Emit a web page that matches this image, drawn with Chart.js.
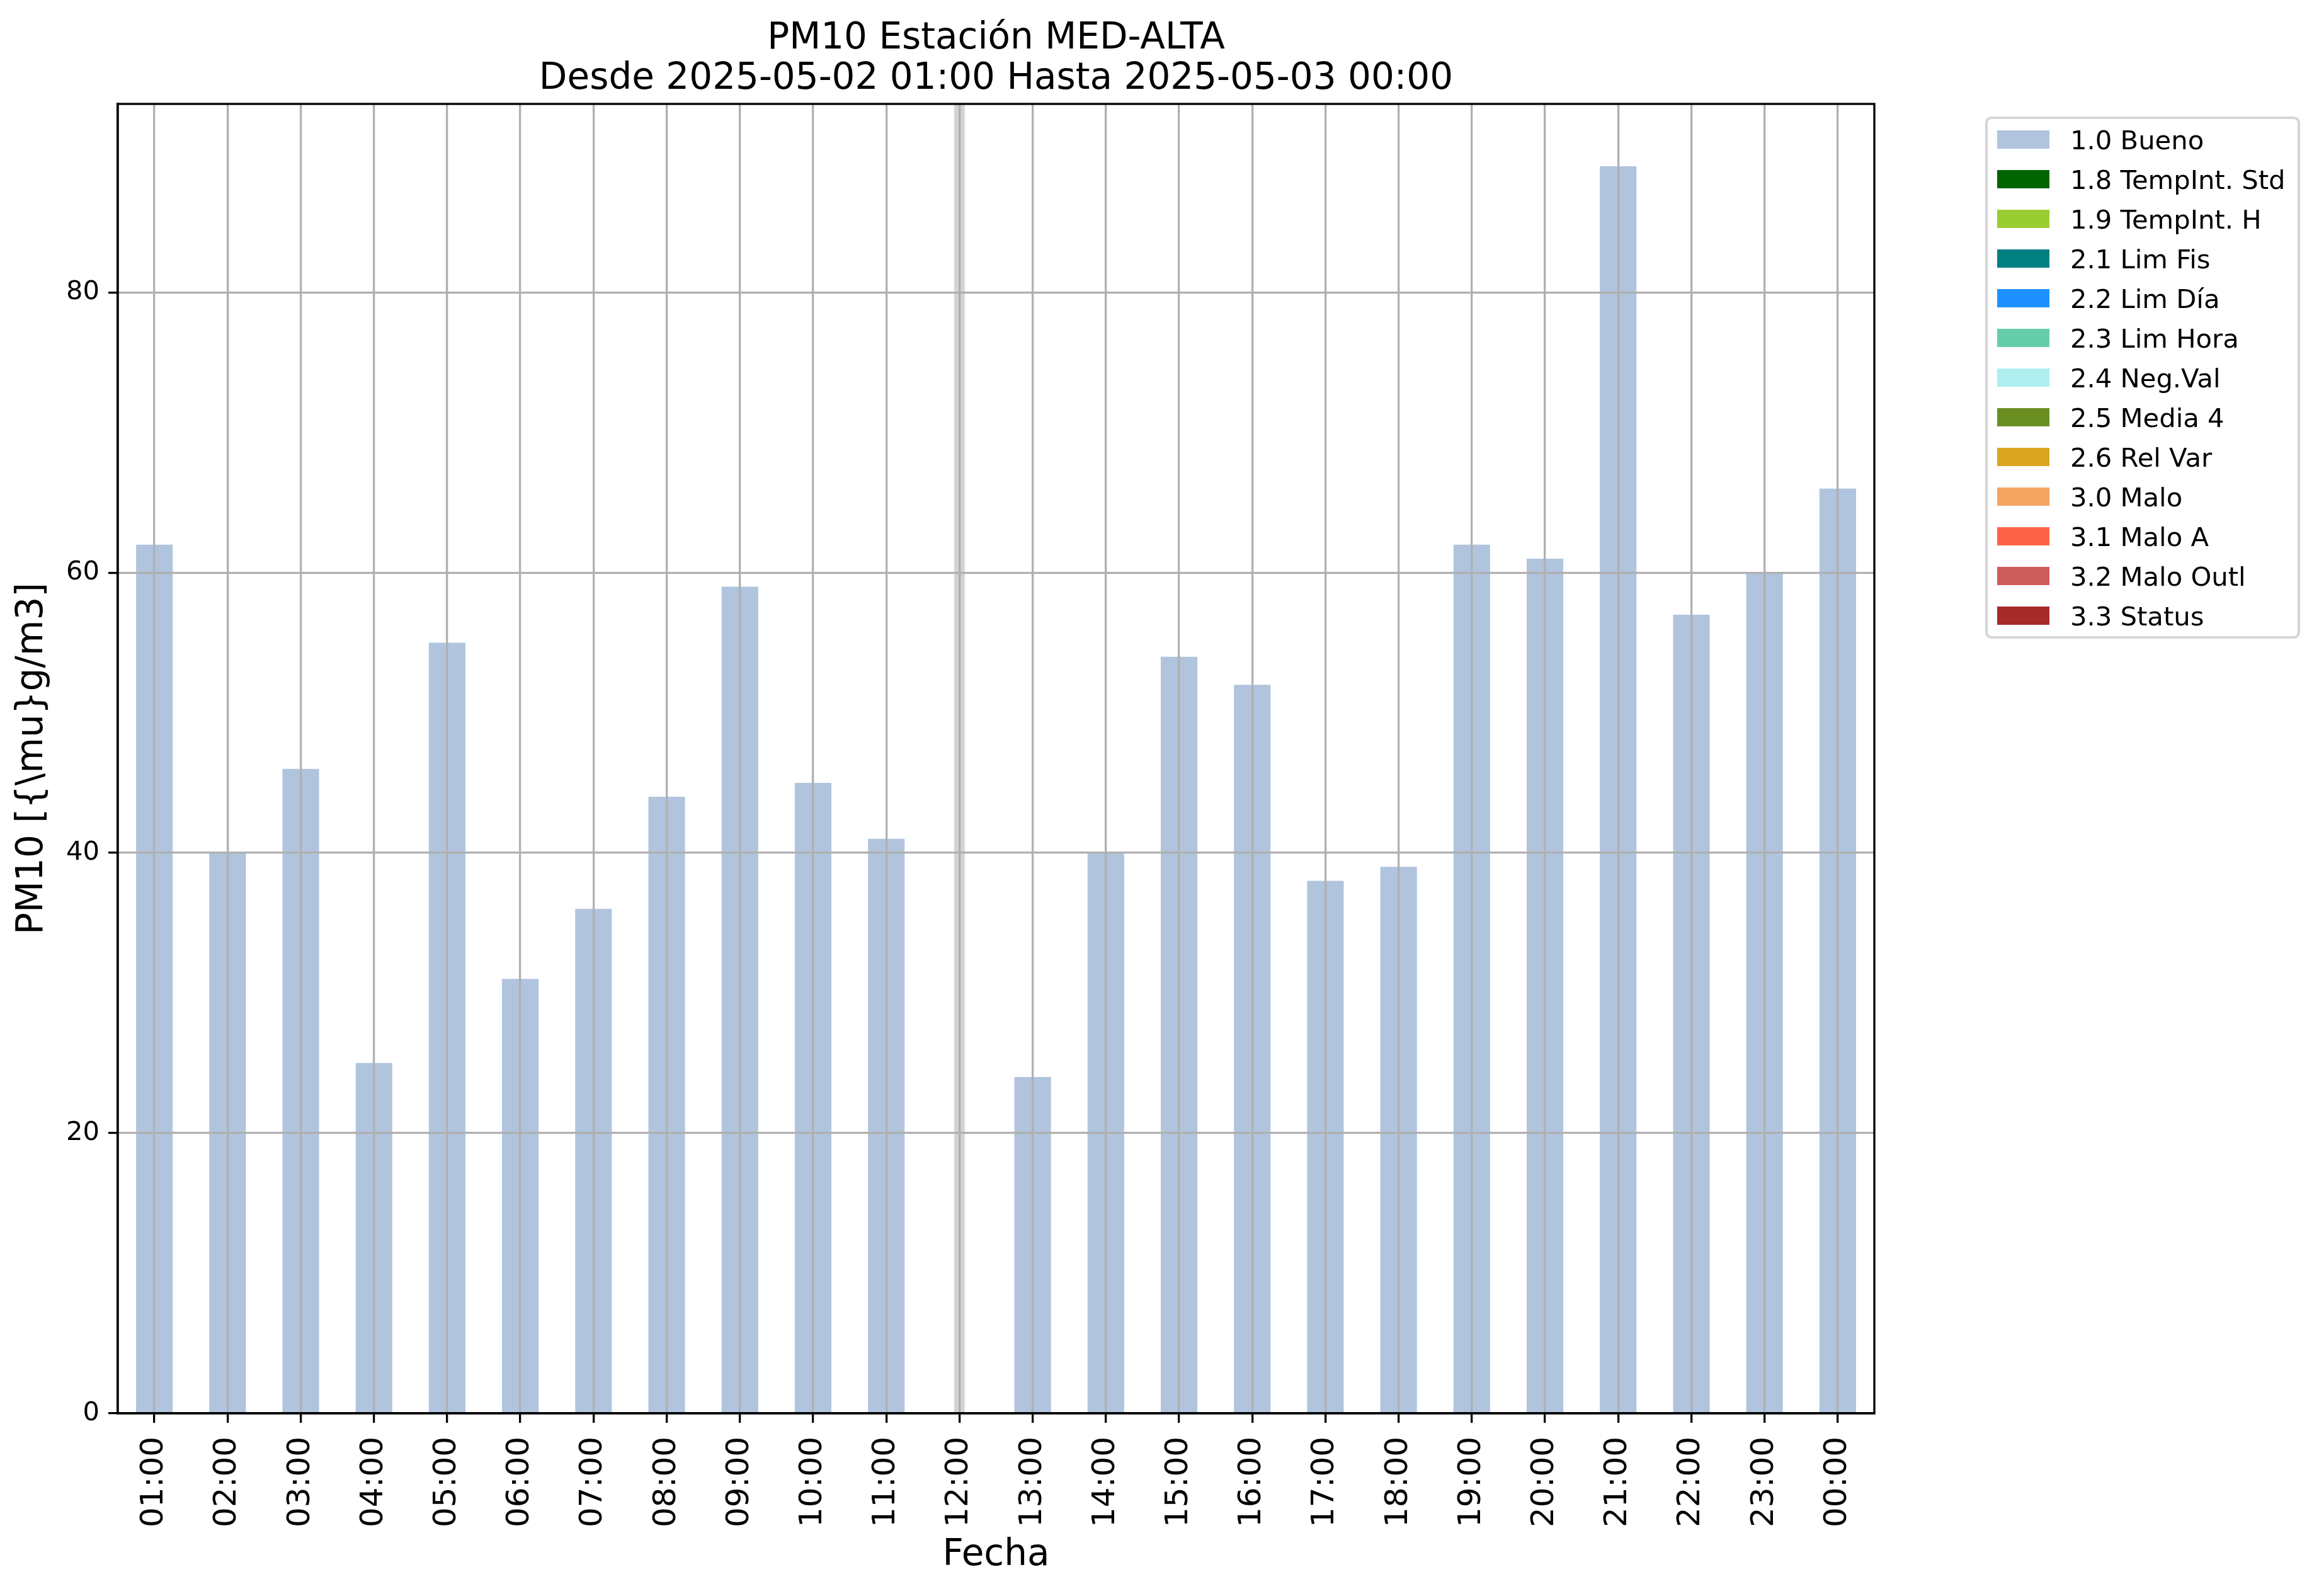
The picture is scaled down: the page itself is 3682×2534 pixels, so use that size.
<!DOCTYPE html>
<html>
<head>
<meta charset="utf-8">
<title>PM10 MED-ALTA</title>
<script src="https://cdn.jsdelivr.net/npm/chart.js@4.4.1/dist/chart.umd.min.js"></script>
<style>
  html, body { margin: 0; padding: 0; background: #fff; }
  canvas { display: block; }
</style>
</head>
<body>
<canvas id="chart" width="3682" height="2534" style="width:3682px;height:2534px"></canvas>
<script>
// ── Data ──────────────────────────────────────
const HOURS = ['01:00','02:00','03:00','04:00','05:00','06:00','07:00','08:00',
               '09:00','10:00','11:00','12:00','13:00','14:00','15:00','16:00',
               '17:00','18:00','19:00','20:00','21:00','22:00','23:00','00:00'];
const PM10  = [62, 40, 46, 25, 55, 31, 36, 44, 59, 45, 41, null,
               24, 40, 54, 52, 38, 39, 62, 61, 89, 57, 60, 66];
const FLAG_LABELS = ['1.0 Bueno','1.8 TempInt. Std','1.9 TempInt. H','2.1 Lim Fis',
                     '2.2 Lim Día','2.3 Lim Hora','2.4 Neg.Val','2.5 Media 4',
                     '2.6 Rel Var','3.0 Malo','3.1 Malo A','3.2 Malo Outl','3.3 Status'];
const FLAG_COLORS = ['#b0c4de','#006400','#9acd32','#008080','#1e90ff','#66cdaa',
                     '#afeeee','#6b8e23','#daa520','#f4a460','#ff6347','#cd5c5c','#a52a2a'];
const Y_TICKS = [0, 20, 40, 60, 80];
const TITLE   = ['PM10 Estación MED-ALTA', 'Desde 2025-05-02 01:00 Hasta 2025-05-03 00:00'];

// ── Look ──────────────────────────────────────
const $      = id => document.getElementById(id);
const FONT   = '"DejaVu Sans", sans-serif';
const GRID   = '#b0b0b0';
const LW     = 3.3;
const Y_MAX  = Math.max(...PM10.filter(v => v !== null)) * 1.05;   // matplotlib 5% margin
const LEGEND = { left: 3154, top: 187, width: 496, height: 825, row: 63, first: 34.5 };

Chart.defaults.font.family = FONT;
Chart.defaults.color = '#000';

// one bar series per quality flag, only "Bueno" carries values
const datasets = FLAG_LABELS.map((label, i) => ({
  label,
  data: i === 0 ? PM10 : HOURS.map(() => null),
  backgroundColor: FLAG_COLORS[i],
  borderWidth: 0
}));
// missing hours are marked by a light grey band
datasets.push({
  label: 'missing',
  data: PM10.map(v => v === null ? Y_MAX : null),
  backgroundColor: '#d3d3d3',
  borderWidth: 0,
  barThickness: 16
});

// ── Plugins ───────────────────────────────────
const framePlugin = {
  id: 'frame',
  afterDraw(chart) {
    const { ctx, chartArea: a } = chart;
    ctx.save();
    ctx.strokeStyle = '#000';
    ctx.lineWidth = LW;
    ctx.strokeRect(a.left, a.top, a.right - a.left, a.bottom - a.top);
    ctx.restore();
  }
};

const titlePlugin = {
  id: 'mplTitle',
  afterDraw(chart) {
    const { ctx, chartArea: a } = chart;
    const cx = (a.left + a.right) / 2;
    ctx.save();
    ctx.fillStyle = '#000';
    ctx.font = `58px ${FONT}`;
    ctx.textAlign = 'center';
    ctx.textBaseline = 'alphabetic';
    ctx.fillText(TITLE[0], cx, 77);
    ctx.fillText(TITLE[1], cx, 141);
    ctx.restore();
  }
};

const legendPlugin = {
  id: 'mplLegend',
  afterDraw(chart) {
    const { ctx } = chart;
    const L = LEGEND;
    ctx.save();
    ctx.beginPath();
    ctx.roundRect(L.left, L.top, L.width, L.height, 8);
    ctx.fillStyle = 'rgba(255,255,255,0.8)';
    ctx.fill();
    ctx.strokeStyle = '#d6d6d6';
    ctx.lineWidth = 4.2;
    ctx.stroke();
    ctx.font = `41.7px ${FONT}`;
    ctx.textAlign = 'left';
    ctx.textBaseline = 'alphabetic';
    chart.data.datasets.slice(0, FLAG_LABELS.length).forEach((ds, i) => {
      const cy = L.top + L.first + i * L.row;
      ctx.fillStyle = ds.backgroundColor;
      ctx.fillRect(L.left + 17, cy - 14.5, 83, 29);
      ctx.fillStyle = '#000';
      ctx.fillText(ds.label, L.left + 133, cy + 15);
    });
    ctx.restore();
  }
};

// ── Chart ─────────────────────────────────────
new Chart($('chart'), {
  type: 'bar',
  data: { labels: HOURS, datasets },
  options: {
    responsive: false,
    animation: false,
    devicePixelRatio: 1,
    layout: { padding: { top: 165, right: 706, left: 0, bottom: 0 } },
    datasets: { bar: { categoryPercentage: 1, barPercentage: 0.5 } },
    plugins: {
      legend:  { display: false },
      title:   { display: false },
      tooltip: { enabled: false }
    },
    scales: {
      x: {
        stacked: true,
        grid:   { z: 1, offset: false, color: GRID, lineWidth: LW, tickColor: '#000', tickLength: 15, tickWidth: LW },
        border: { z: 2, color: '#000', width: LW },
        ticks:  { font: { size: 50 }, color: '#000', minRotation: 90, maxRotation: 90, padding: 22, autoSkip: false },
        title:  { display: true, text: 'Fecha', font: { size: 58 }, color: '#000', padding: { top: 0, bottom: 29 } },
        afterFit: s => { s.height = 290; }
      },
      y: {
        stacked: true,
        min: 0,
        max: Y_MAX,
        grid:   { z: 1, color: GRID, lineWidth: LW, tickColor: '#000', tickLength: 15, tickWidth: LW },
        border: { z: 2, color: '#000', width: LW },
        ticks:  { font: { size: 41.7 }, color: '#000', padding: 14 },
        title:  { display: true, text: 'PM10 [{\\mu}g/m3]', font: { size: 58 }, color: '#000', padding: { top: 17, bottom: 0 } },
        afterBuildTicks: s => { s.ticks = Y_TICKS.map(v => ({ value: v })); },
        afterFit: s => { s.width = 187; }
      }
    }
  },
  plugins: [framePlugin, titlePlugin, legendPlugin]
});
</script>
</body>
</html>
